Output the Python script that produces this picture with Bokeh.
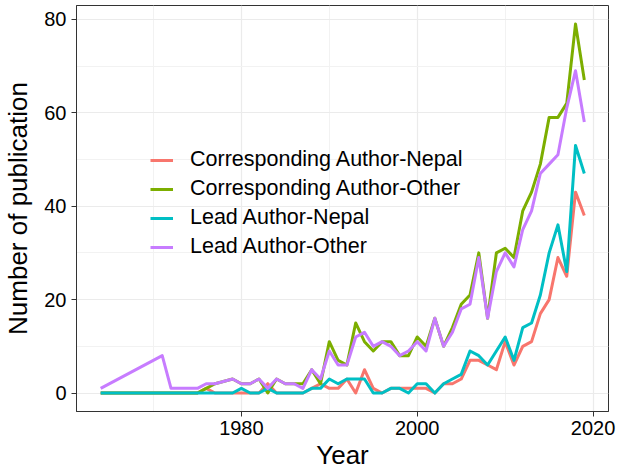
from bokeh.plotting import figure
from bokeh.models import (ColumnDataSource, FixedTicker, Legend, LegendItem, Range1d)
from bokeh.embed import file_html
from bokeh.resources import INLINE

# Publication counts per year
years = [1964, 1971, 1972, 1973, 1974, 1975, 1976, 1977, 1979,
         1980, 1981, 1982, 1983, 1984, 1985, 1986, 1987, 1988, 1989,
         1990, 1991, 1992, 1993, 1994, 1995, 1996, 1997, 1998, 1999,
         2000, 2001, 2002, 2003, 2004, 2005, 2006, 2007, 2008, 2009,
         2010, 2011, 2012, 2013, 2014, 2015, 2016, 2017, 2018, 2019]

corresponding_nepal = [0, 0, 0, 0, 0, 0, 1, 0, 0,
                       0, 0, 0, 2, 0, 0, 0, 0, 1, 2,
                       1, 1, 3, 0, 5, 1, 0, 1, 1, 1,
                       1, 1, 0, 2, 2, 3, 7, 7, 6, 5,
                       11, 6, 10, 11, 17, 20, 29, 25, 43, 38]

corresponding_other = [0, 0, 0, 0, 0, 0, 1, 2, 3,
                       2, 2, 3, 0, 3, 2, 2, 2, 5, 2,
                       11, 7, 6, 15, 11, 9, 11, 11, 8, 8,
                       12, 10, 16, 10, 14, 19, 21, 30, 16, 30,
                       31, 29, 39, 43, 49, 59, 59, 62, 79, 67]

lead_nepal = [0, 0, 0, 0, 0, 0, 0, 0, 0,
              1, 0, 0, 1, 0, 0, 0, 0, 1, 1,
              3, 2, 3, 3, 3, 0, 0, 1, 1, 0,
              2, 2, 0, 2, 3, 4, 9, 8, 6, 9,
              12, 7, 14, 15, 21, 30, 36, 26, 53, 47]

lead_other = [1, 8, 1, 1, 1, 1, 2, 2, 3,
              2, 2, 3, 1, 3, 2, 2, 1, 5, 3,
              9, 6, 6, 12, 13, 10, 11, 10, 8, 9,
              11, 9, 16, 10, 13, 18, 19, 29, 16, 26,
              30, 27, 35, 39, 47, 49, 51, 61, 69, 58]

series_names = ["Corresponding Author-Nepal", "Corresponding Author-Other",
                "Lead Author-Nepal", "Lead Author-Other"]
series_values = [corresponding_nepal, corresponding_other, lead_nepal, lead_other]
series_colors = ["#F8766D", "#7CAE00", "#00BFC4", "#C77CFF"]

x_ticks = [1980, 2000, 2020]
x_minor = [1970, 1990, 2010]
y_ticks = [0, 20, 40, 60, 80]
y_minor = [10, 30, 50, 70]

FONT = "Liberation Sans"

p = figure(width=624, height=472, output_backend="svg", toolbar_location=None,
           x_range=Range1d(1961.25, 2021.75), y_range=Range1d(-3.95, 82.95),
           min_border_left=76, min_border_right=16, min_border_top=5,
           min_border_bottom=60)

p.background_fill_color = "white"
p.border_fill_color = "white"
p.outline_line_color = "#333333"
p.outline_line_width = 1

p.xaxis.ticker = FixedTicker(ticks=x_ticks, minor_ticks=x_minor)
p.yaxis.ticker = FixedTicker(ticks=y_ticks, minor_ticks=y_minor)

for ax in (p.xaxis[0], p.yaxis[0]):
    ax.axis_line_color = "#333333"
    ax.major_tick_line_color = "#333333"
    ax.major_tick_out = 5
    ax.major_tick_in = 0
    ax.minor_tick_line_color = None
    ax.major_label_text_font = FONT
    ax.major_label_text_font_size = "20px"
    ax.major_label_text_color = "black"
    ax.axis_label_text_font = FONT
    ax.axis_label_text_font_size = "26px"
    ax.axis_label_text_font_style = "normal"
    ax.axis_label_text_color = "black"

p.xaxis.axis_label = "Year"
p.yaxis.axis_label = "Number of publication"
p.xaxis.major_label_standoff = 4
p.xaxis.axis_label_standoff = 2
p.yaxis.major_label_standoff = 5
p.yaxis.axis_label_standoff = 8

for g in (p.xgrid[0], p.ygrid[0]):
    g.grid_line_color = "#EBEBEB"
    g.grid_line_width = 1.2
    g.minor_grid_line_color = "#F2F2F2"
    g.minor_grid_line_width = 1

source = ColumnDataSource(dict(year=years, cn=corresponding_nepal, co=corresponding_other,
                               ln=lead_nepal, lo=lead_other))

items = []
for name, col, color in zip(series_names, ["cn", "co", "ln", "lo"], series_colors):
    r = p.line("year", col, source=source, line_color=color, line_width=3,
               line_join="round")
    items.append(LegendItem(label=name, renderers=[r]))

legend = Legend(items=items, location=(74, 152), orientation="vertical",
                background_fill_alpha=0, border_line_color=None,
                padding=0, margin=0, spacing=4,
                glyph_width=23, glyph_height=20, label_height=20,
                label_standoff=17, label_text_font=FONT,
                label_text_font_size="21.5px", label_text_color="black")
p.add_layout(legend)

open("out.html", "w").write(file_html(p, INLINE))
